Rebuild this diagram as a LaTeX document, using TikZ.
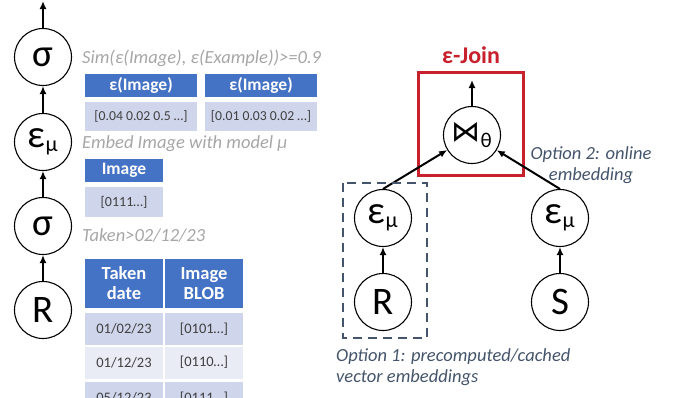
\documentclass[tikz,border=0pt]{standalone}
\usepackage{fontspec}
\setmainfont{Carlito}
\newfontfamily\symfont{DejaVu Sans}
\usetikzlibrary{arrows.meta}
\definecolor{hdrblue}{HTML}{4472C4}
\definecolor{rowdark}{HTML}{CFD5EA}
\definecolor{rowlight}{HTML}{E9EBF5}
\definecolor{notegray}{HTML}{A6A6A6}
\definecolor{slate}{HTML}{44546A}
\definecolor{joinred}{RGB}{200,32,44}
\tikzset{
    op/.style={circle, draw, line width=1.1pt, minimum size=57pt, inner sep=0pt, font=\fontsize{39}{39}\selectfont},
    flow/.style={-{Latex[length=8pt,width=7pt]}, line width=2pt},
    hdr/.style={fill=hdrblue, text=white, font=\fontsize{17.5}{20}\selectfont\bfseries, inner sep=0pt, align=center},
    cell/.style={fill=rowdark, text=black!75, font=\fontsize{14}{16}\selectfont, inner sep=0pt},
    note/.style={text=notegray, font=\fontsize{18.5}{20}\selectfont\itshape, anchor=west, inner sep=0pt},
    remark/.style={text=slate, font=\fontsize{18.5}{21}\selectfont\itshape, inner sep=0pt}
}
\newcommand{\embop}{ε\textsubscript{\fontsize{22}{22}\selectfont μ}}
\begin{document}
\begin{tikzpicture}[x=1pt, y=-1pt]
        \useasboundingbox (0,0) rectangle (678,397);
        \clip (0,0) rectangle (678,397);

        %left plan
        \node [op] (sel1) at (43,57) {σ};
        \node [op] (emb1) at (43,142) {\embop};
        \node [op] (sel2) at (43,226) {σ};
        \node [op] (scanR) at (43,310) {R};
        \coordinate (out1) at (43,1);
        \draw [flow] (sel1) -- (out1);
        \draw [flow] (emb1) -- (sel1);
        \draw [flow] (sel2) -- (emb1);
        \draw [flow] (scanR) -- (sel2);

        %notes next to the operators
        \node [note] (simnote) at (82,58) {Sim(ε(Image), ε(Example))>=0.9};
        \node [note] (embnote) at (82,144) {Embed Image with model μ};
        \node [note] (selnote) at (82,235) {Taken>02/12/23};

        %embedding tables
        \node [hdr, minimum width=112pt, minimum height=23pt] (vecA) at (141,85.5) {ε(Image)};
        \node [cell, minimum width=112pt, minimum height=29pt, font=\fontsize{13.7}{16}\selectfont] (vecAval) at (141,116.5) {[0.04 0.02 0.5 …]};
        \node [hdr, minimum width=112pt, minimum height=23pt] (vecB) at (261,85.5) {ε(Image)};
        \node [cell, minimum width=112pt, minimum height=29pt, font=\fontsize{13.7}{16}\selectfont] (vecBval) at (261,116.5) {[0.01 0.03 0.02 …]};

        %image table
        \node [hdr, minimum width=78pt, minimum height=23pt] (img) at (124,170.5) {Image};
        \node [cell, minimum width=78pt, minimum height=30pt] (imgval) at (124,202) {[0111…]};

        %base table R
        \node [hdr, minimum width=78pt, minimum height=49pt, font=\fontsize{18.5}{20}\selectfont\bfseries] (taken) at (124,283.5) {Taken\\date};
        \node [hdr, minimum width=78pt, minimum height=49pt, font=\fontsize{18.5}{20}\selectfont\bfseries] (blob) at (204,283.5) {Image\\BLOB};
        \node [cell, minimum width=78pt, minimum height=32pt, font=\fontsize{14.5}{16}\selectfont] (d1) at (124,329) {01/02/23};
        \node [cell, minimum width=78pt, minimum height=32pt, font=\fontsize{14.5}{16}\selectfont] (b1) at (204,329) {[0101…]};
        \node [cell, fill=rowlight, minimum width=78pt, minimum height=32pt, font=\fontsize{14.5}{16}\selectfont] (d2) at (124,362.5) {01/12/23};
        \node [cell, fill=rowlight, minimum width=78pt, minimum height=32pt, font=\fontsize{14.5}{16}\selectfont] (b2) at (204,362.5) {[0110…]};
        \node [cell, minimum width=78pt, minimum height=32pt, font=\fontsize{14.5}{16}\selectfont] (d3) at (124,398) {05/12/23};
        \node [cell, minimum width=78pt, minimum height=32pt, font=\fontsize{14.5}{16}\selectfont] (b3) at (204,398) {[0111…]};

        %join plan
        \node [text=joinred, font=\fontsize{24}{24}\selectfont\bfseries] (jointitle) at (471,55) {ε-Join};
        \draw [joinred, line width=3pt] (418,72) rectangle (523,175);
        \node [op] (join) at (472,135) {{\symfont\fontsize{29}{29}\selectfont ⋈}\textsubscript{\fontsize{21}{21}\selectfont θ}};
        \coordinate (out2) at (472,80);
        \draw [flow] (join) -- (out2);

        \node [op] (embR) at (383,218) {\embop};
        \node [op] (scanR2) at (383,302) {R};
        \node [op] (embS) at (560,218) {\embop};
        \node [op] (scanS) at (560,302) {S};
        \draw [flow] (scanR2) -- (embR);
        \draw [flow] (scanS) -- (embS);
        \draw [flow] (embR.north) -- (join);
        \draw [flow] (embS.north) -- (join);

        %cached side
        \draw [slate, dashed, dash pattern=on 9pt off 6pt, line width=1.6pt] (343,183) rectangle (427,338);

        \node [remark, align=center] (opt2) at (591,165) {Option 2: online\\embedding};
        \node [remark, align=left, anchor=west] (opt1) at (336,367) {Option 1: precomputed/cached\\vector embeddings};
    \end{tikzpicture}
\end{document}
